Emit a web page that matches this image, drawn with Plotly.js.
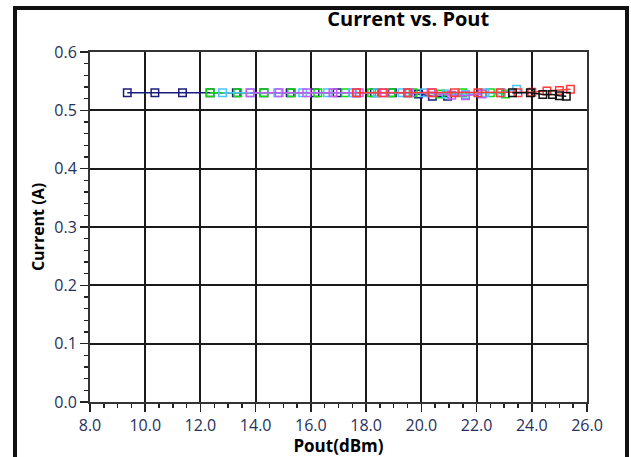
<!DOCTYPE html>
<html>
<head>
<meta charset="utf-8">
<script src="https://cdn.plot.ly/plotly-3.0.1.min.js"></script>
<style>
html,body{margin:0;padding:0;background:#fff;}
#chart{width:631px;height:457px;}
</style>
</head>
<body>
<div id="chart"></div>
<script>
// Series data (Pout in dBm, Current in A)
const navyX = [9.35, 10.35, 11.35, 12.35, 13.3, 14.3, 15.25, 16.15, 16.95, 17.65, 18.3, 18.95, 19.5, 19.9, 20.4, 20.95];
const navyY = [0.530, 0.530, 0.530, 0.530, 0.530, 0.530, 0.530, 0.530, 0.530, 0.530, 0.530, 0.530, 0.530, 0.528, 0.524, 0.524];

const greenX = [12.35, 13.35, 14.3, 15.3, 16.25, 17.25, 18.2, 18.9, 19.7, 20.7, 21.5, 22.5, 23.05];
const greenY = [0.530, 0.530, 0.530, 0.530, 0.530, 0.530, 0.530, 0.530, 0.530, 0.528, 0.530, 0.530, 0.528];

const blueX = [12.8, 13.8, 14.8, 15.7, 16.6, 17.5, 18.4, 19.3, 20.1, 20.9, 21.6, 22.3, 22.9, 23.45];
const blueY = [0.530, 0.530, 0.530, 0.530, 0.530, 0.530, 0.530, 0.530, 0.530, 0.528, 0.527, 0.530, 0.530, 0.536];

const magentaX = [13.8, 14.85, 15.85, 16.8, 17.75, 18.65, 19.55, 20.35, 21.1, 21.6, 22.2];
const magentaY = [0.530, 0.530, 0.530, 0.530, 0.530, 0.530, 0.530, 0.530, 0.526, 0.525, 0.528];

const redX = [17.65, 18.6, 19.5, 20.4, 21.2, 22.05, 22.85, 23.5, 24.0, 24.55, 25.0, 25.4];
const redY = [0.530, 0.530, 0.530, 0.530, 0.530, 0.530, 0.530, 0.530, 0.531, 0.533, 0.534, 0.536];

const blackX = [23.3, 23.95, 24.4, 24.75, 25.0, 25.25];
const blackY = [0.530, 0.530, 0.527, 0.527, 0.525, 0.524];

const xTickVals = [8, 10, 12, 14, 16, 18, 20, 22, 24, 26];
const yTickVals = [0, 0.1, 0.2, 0.3, 0.4, 0.5, 0.6];

const series = [
  {x: navyX, y: navyY, c: '#1c1c7c'},
  {x: greenX, y: greenY, c: '#10d810'},
  {x: blueX, y: blueY, c: '#4cc4ff'},
  {x: magentaX, y: magentaY, c: '#c35cf5'},
  {x: redX, y: redY, c: '#ff3c3c'},
  {x: blackX, y: blackY, c: '#111111'}
];

const traces = series.map(s => ({
  x: s.x, y: s.y, type: 'scatter', mode: 'lines+markers',
  line: {color: s.c, width: 1.5},
  marker: {symbol: 'square-open', size: 7.5, color: s.c, line: {width: 1.5, color: s.c}},
  showlegend: false, hoverinfo: 'skip'
}));

const FAM = 'Open Sans, DejaVu Sans, sans-serif';
const tickFont = {family: FAM, size: 16, color: '#26305a'};

const layout = {
  width: 631, height: 457,
  margin: {l: 90, r: 44, t: 52, b: 55, pad: 0},
  paper_bgcolor: '#ffffff', plot_bgcolor: '#ffffff',
  title: {
    text: '<b>Current vs. Pout</b>',
    font: {family: FAM, size: 20, color: '#000'},
    xref: 'container', yref: 'container', x: 0.647, y: 0.958, xanchor: 'center', yanchor: 'middle'
  },
  xaxis: {
    range: [8, 26], tickvals: xTickVals, tickformat: '.1f',
    ticks: 'outside', ticklen: 8, tickwidth: 1.5, tickcolor: '#222',
    minor: {dtick: 0.5, ticklen: 4, tickwidth: 1.5, tickcolor: '#222', ticks: 'outside', showgrid: false},
    showgrid: true, gridcolor: '#1a1a1a', gridwidth: 2,
    showline: true, linecolor: '#333', linewidth: 2, mirror: true,
    zeroline: false, tickfont: tickFont,
    title: {text: '<b>Pout(dBm)</b>', font: {family: FAM, size: 17, color: '#000'}, standoff: 2}
  },
  yaxis: {
    range: [0, 0.6], tickvals: yTickVals, tickformat: '.1f',
    ticks: 'outside', ticklen: 8, tickwidth: 1.5, tickcolor: '#222',
    minor: {dtick: 0.02, ticklen: 4, tickwidth: 1.5, tickcolor: '#222', ticks: 'outside', showgrid: false},
    showgrid: true, gridcolor: '#1a1a1a', gridwidth: 2,
    showline: true, linecolor: '#333', linewidth: 2, mirror: true,
    zeroline: false, tickfont: tickFont,
    title: {text: '<b>Current (A)</b>', font: {family: FAM, size: 16, color: '#000'}, standoff: 6}
  },
  shapes: [{
    type: 'rect', xref: 'paper', yref: 'paper',
    x0: (15 - 90) / 497, x1: (627 - 90) / 497,
    y0: (402 - 480) / 350, y1: (402 - 8) / 350,
    line: {color: '#111', width: 4}, fillcolor: 'rgba(0,0,0,0)', layer: 'above'
  }]
};

Plotly.newPlot('chart', traces, layout, {staticPlot: true, displayModeBar: false});
</script>
</body>
</html>
